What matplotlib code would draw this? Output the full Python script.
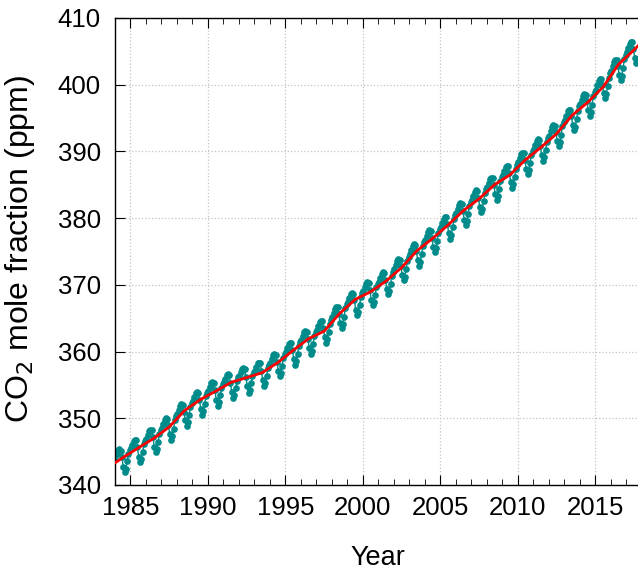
import numpy as np
import matplotlib
matplotlib.use('Agg')
from matplotlib import pyplot as plt
from matplotlib.ticker import MultipleLocator

plt.rcParams['font.family'] = ['Liberation Sans', 'DejaVu Sans']

# monthly global mean CO2 (ppm), one row per year, starting Jan 1984
co2_monthly = [
    343.93, 344.62, 345.08, 345.37, 345.12, 344.24, 342.70, 341.98, 342.33, 343.55, 344.60, 345.28,
    345.50, 346.05, 346.64, 346.80, 346.69, 345.62, 344.24, 343.38, 343.88, 344.93, 346.11, 346.66,
    346.96, 347.52, 348.12, 348.28, 348.19, 347.14, 345.75, 344.90, 345.41, 346.47, 347.66, 348.23,
    348.55, 349.15, 349.79, 350.01, 349.95, 348.94, 347.60, 346.80, 347.35, 348.46, 349.69, 350.30,
    350.64, 351.24, 351.88, 352.09, 352.03, 351.01, 349.67, 348.86, 349.41, 350.51, 351.74, 352.35,
    352.66, 353.21, 353.80, 353.96, 353.85, 352.79, 351.40, 350.54, 351.04, 352.09, 353.27, 353.83,
    354.10, 354.64, 355.22, 355.37, 355.25, 354.18, 352.76, 351.89, 352.38, 353.42, 354.59, 355.14,
    355.39, 355.91, 356.46, 356.59, 356.44, 355.35, 353.91, 353.02, 353.48, 354.50, 355.64, 356.17,
    356.40, 356.89, 357.42, 357.52, 357.35, 356.23, 354.77, 353.85, 354.29, 355.28, 356.40, 356.90,
    357.14, 357.66, 358.22, 358.36, 358.22, 357.13, 355.71, 354.82, 355.29, 356.32, 357.47, 358.00,
    358.28, 358.85, 359.46, 359.64, 359.55, 358.50, 357.13, 356.28, 356.80, 357.87, 359.07, 359.65,
    359.96, 360.54, 361.15, 361.35, 361.27, 360.23, 358.87, 358.04, 358.56, 359.65, 360.86, 361.44,
    361.74, 362.29, 362.88, 363.04, 362.93, 361.87, 360.47, 359.61, 360.11, 361.16, 362.34, 362.90,
    363.20, 363.79, 364.41, 364.61, 364.54, 363.52, 362.15, 361.33, 361.87, 362.96, 364.17, 364.77,
    365.11, 365.74, 366.40, 366.64, 366.61, 365.63, 364.30, 363.52, 364.10, 365.23, 366.48, 367.12,
    367.45, 368.01, 368.62, 368.80, 368.70, 367.66, 366.27, 365.43, 365.94, 367.01, 368.21, 368.78,
    369.07, 369.61, 370.20, 370.36, 370.24, 369.18, 367.77, 366.91, 367.40, 368.45, 369.63, 370.18,
    370.48, 371.06, 371.68, 371.87, 371.79, 370.76, 369.39, 368.56, 369.09, 370.17, 371.38, 371.97,
    372.31, 372.93, 373.58, 373.82, 373.78, 372.78, 371.46, 370.67, 371.23, 372.36, 373.61, 374.23,
    374.58, 375.19, 375.85, 376.07, 376.02, 375.02, 373.69, 372.89, 373.45, 374.56, 375.81, 376.43,
    376.76, 377.35, 377.98, 378.18, 378.11, 377.09, 375.73, 374.91, 375.45, 376.54, 377.76, 378.36,
    378.69, 379.29, 379.94, 380.15, 380.10, 379.09, 377.75, 376.94, 377.50, 378.60, 379.84, 380.45,
    380.78, 381.38, 382.01, 382.21, 382.15, 381.13, 379.77, 378.96, 379.50, 380.59, 381.82, 382.42,
    382.74, 383.33, 383.96, 384.16, 384.09, 383.07, 381.72, 380.90, 381.44, 382.53, 383.75, 384.35,
    384.67, 385.25, 385.86, 386.06, 385.98, 384.94, 383.58, 382.75, 383.27, 384.36, 385.57, 386.15,
    386.47, 387.05, 387.68, 387.88, 387.80, 386.78, 385.41, 384.59, 385.12, 386.21, 387.43, 388.02,
    388.35, 388.95, 389.59, 389.80, 389.75, 388.74, 387.39, 386.58, 387.14, 388.24, 389.47, 390.08,
    390.41, 391.00, 391.63, 391.84, 391.77, 390.75, 389.39, 388.57, 389.11, 390.21, 391.43, 392.03,
    392.37, 393.00, 393.67, 393.91, 393.88, 392.89, 391.58, 390.79, 391.37, 392.50, 393.76, 394.40,
    394.76, 395.38, 396.05, 396.28, 396.25, 395.26, 393.94, 393.15, 393.73, 394.85, 396.11, 396.74,
    397.09, 397.70, 398.34, 398.56, 398.51, 397.51, 396.16, 395.36, 395.92, 397.03, 398.26, 398.88,
    399.25, 399.92, 400.62, 400.91, 400.91, 399.97, 398.69, 397.95, 398.56, 399.74, 401.03, 401.71,
    402.11, 402.77, 403.47, 403.74, 403.74, 402.79, 401.51, 400.76, 401.37, 402.53, 403.82, 404.49,
    404.87, 405.49, 406.14, 406.38, 406.34, 405.34, 404.02, 403.23, 403.79,
]

# deseasonalized trend (ppm), every half year starting 1984.0
co2_trend = [
    343.30, 344.07, 344.81, 345.54, 346.26, 346.97, 347.83, 348.68, 349.92, 351.16,
    351.97, 352.78, 353.42, 354.05, 354.72, 355.39, 355.74, 356.09, 356.46, 356.83,
    357.58, 358.33, 359.25, 360.17, 361.05, 361.93, 362.49, 363.05, 364.38, 365.70,
    366.75, 367.80, 368.38, 368.96, 369.77, 370.57, 371.58, 372.58, 373.86, 375.14,
    376.05, 376.95, 377.97, 378.98, 380.07, 381.15, 382.03, 382.90, 383.96, 385.02,
    385.76, 386.50, 387.63, 388.76, 389.70, 390.63, 391.64, 392.65, 394.03, 395.40,
    396.37, 397.34, 398.50, 399.65, 401.36, 403.06, 404.14, 405.22, 406.42,
]

start_year = 1984
t_month = start_year + (np.arange(len(co2_monthly)) + 0.5) / 12.0
t_trend = start_year + 0.5 * np.arange(len(co2_trend))

fig = plt.figure(figsize=(6.38, 5.73), dpi=100)
ax = fig.add_axes([0.180, 0.1536, 0.826, 0.815])

ax.plot(t_month, co2_monthly, '-', color='#008b8b', lw=1.0,
        marker='o', ms=3.8, mec='#008b8b', mfc='#008b8b', zorder=2)
ax.plot(t_trend, co2_trend, '-', color='#ff0000', lw=2.0, zorder=3)

ax.set_xlim(1984, 2018)
ax.set_ylim(340, 410)
ax.xaxis.set_major_locator(MultipleLocator(5))
ax.xaxis.set_minor_locator(MultipleLocator(1))
ax.yaxis.set_major_locator(MultipleLocator(10))

ax.grid(True, which='major', color='#c4c4c4', linestyle=':', linewidth=0.9)
ax.tick_params(which='both', direction='in', top=True, right=False,
               labelsize=18.5, colors='black')
ax.tick_params(axis='x', which='major', length=7, pad=8)
ax.tick_params(axis='x', which='minor', length=4)
ax.tick_params(axis='y', which='major', length=7, pad=10)
ax.spines['right'].set_visible(False)
for s in ('left', 'bottom', 'top'):
    ax.spines[s].set_linewidth(1.0)

ax.set_xlabel('Year', fontsize=19.5)
ax.set_ylabel('CO$_2$ mole fraction (ppm)', fontsize=23)
ax.xaxis.set_label_coords(0.499, -0.128)
ax.yaxis.set_label_coords(-0.148, 0.505)

fig.savefig('out.png', dpi=100)
